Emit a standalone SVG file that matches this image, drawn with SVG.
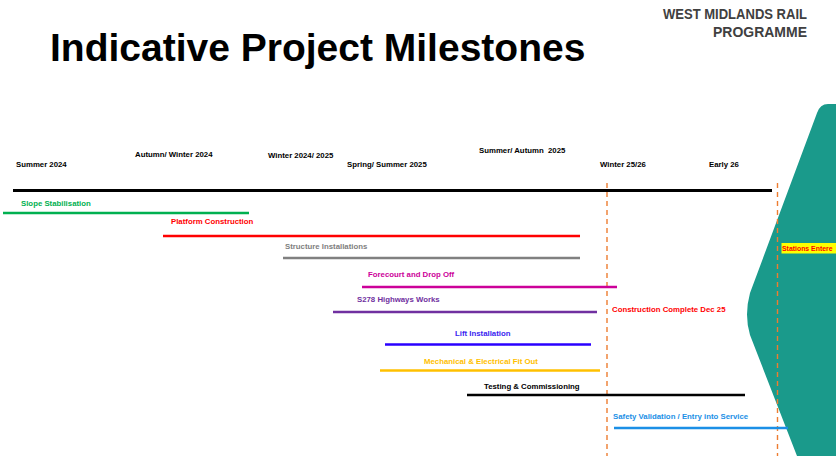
<svg xmlns="http://www.w3.org/2000/svg" width="836" height="456" viewBox="0 0 836 456">
<defs>
<style>
.t{font-family:"Liberation Sans",Arial,sans-serif;font-weight:bold;font-size:7.8px}
.bar{stroke-width:2.6;fill:none}
.dash{stroke:#ed7d31;stroke-width:1.4;stroke-dasharray:5 4;fill:none}
</style>
</defs>
<rect width="836" height="456" fill="#fff"/>
<path id="teal" d="M 836 104 L 828 104 Q 820 104 817 113 L 750 293 Q 744 315 750 335 L 797 456 L 836 456 Z" fill="#1a9a8b"/>
<text x="50" y="61" font-family="Liberation Sans,Arial,sans-serif" font-weight="bold" font-size="39" fill="#000">Indicative Project Milestones</text>
<g font-family="Liberation Sans,Arial,sans-serif" font-weight="bold" font-size="14.5" fill="#404040" text-anchor="end">
<text x="807" y="19" textLength="144" lengthAdjust="spacingAndGlyphs">WEST MIDLANDS RAIL</text>
<text x="807" y="37" textLength="94" lengthAdjust="spacingAndGlyphs">PROGRAMME</text>
</g>
<g id="dates" class="t" fill="#000">
<text x="16" y="167">Summer 2024</text>
<text x="135" y="157">Autumn/ Winter 2024</text>
<text x="268" y="157.5">Winter 2024/ 2025</text>
<text x="347" y="167">Spring/ Summer 2025</text>
<text x="479" y="153" xml:space="preserve">Summer/ Autumn  2025</text>
<text x="600" y="167">Winter 25/26</text>
<text x="709" y="167">Early 26</text>
</g>
<g id="connectors">
<line x1="13" y1="190.5" x2="772" y2="190.5" stroke="#000" stroke-width="3.2"/>
<line class="dash" x1="607" y1="183" x2="607" y2="456"/>
<line class="dash" x1="777.5" y1="183" x2="777.5" y2="456"/>
</g>
<g id="slope"><text class="t" x="21" y="206" fill="#00b050">Slope Stabilisation</text><line class="bar" x1="3" y1="213" x2="249" y2="213" stroke="#00b050"/></g>
<g id="platform"><text class="t" x="171" y="224" fill="#ff0000">Platform Construction</text><line class="bar" x1="163" y1="236" x2="580" y2="236" stroke="#ff0000"/></g>
<g id="structure"><text class="t" x="285" y="249" fill="#808080">Structure Installations</text><line class="bar" x1="283" y1="258" x2="580" y2="258" stroke="#808080"/></g>
<g id="forecourt"><text class="t" x="368" y="277" fill="#cc0099">Forecourt and Drop Off</text><line class="bar" x1="362" y1="287" x2="617" y2="287" stroke="#cc0099"/></g>
<g id="s278"><text class="t" x="357" y="301.5" fill="#7030a0">S278 Highways Works</text><line class="bar" x1="333" y1="312" x2="597" y2="312" stroke="#7030a0"/></g>
<g id="complete"><text class="t" x="612" y="311.5" fill="#ff0000">Construction Complete Dec 25</text></g>
<g id="lift"><text class="t" x="455" y="335.5" fill="#3a1ef0">Lift Installation</text><line class="bar" x1="385" y1="344.5" x2="591" y2="344.5" stroke="#2a00ff"/></g>
<g id="mech"><text class="t" x="424" y="364" fill="#ffc000">Mechanical &amp; Electrical Fit Out</text><line class="bar" x1="380" y1="370.5" x2="600" y2="370.5" stroke="#ffc000"/></g>
<g id="testing"><text class="t" x="484" y="388.5" fill="#000">Testing &amp; Commissioning</text><line class="bar" x1="467" y1="395" x2="745" y2="395" stroke="#000"/></g>
<g id="safety"><text class="t" x="613" y="419" fill="#1b8fe6">Safety Validation / Entry into Service</text><line class="bar" x1="614" y1="428" x2="788" y2="428" stroke="#1b8fe6"/></g>
<g id="stations"><rect x="781.5" y="243" width="54.5" height="10.5" fill="#ffff00"/><text x="782" y="251.3" font-family="Liberation Sans,Arial,sans-serif" font-weight="bold" font-size="6.9" fill="#ff0000">Stations Entere</text></g>
</svg>
